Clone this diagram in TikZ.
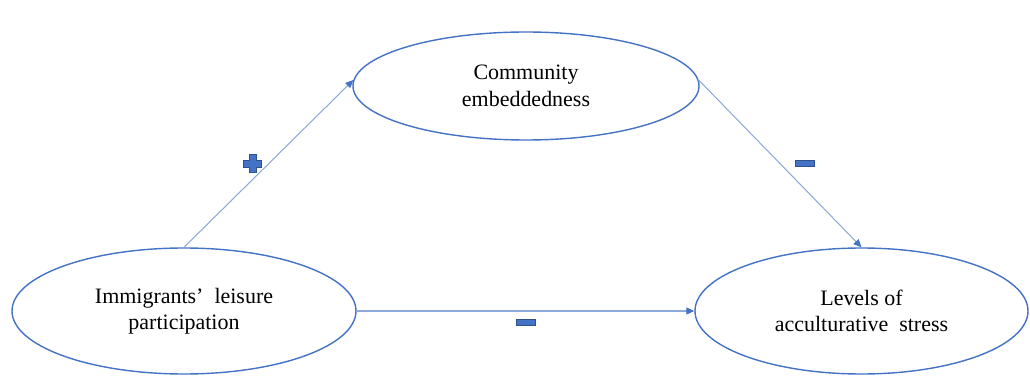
\documentclass[tikz,border=0pt]{standalone}
\usepackage{fontspec}
\setmainfont{Liberation Serif}
\usetikzlibrary{shapes.geometric, arrows.meta, positioning}
\definecolor{ovalblue}{HTML}{4472C4}
\definecolor{linkblue}{HTML}{8EA9DB}
\definecolor{signblue}{HTML}{4472C4}
\definecolor{signedge}{HTML}{2F528F}
\tikzstyle{factor} = [
  ellipse,
  minimum width=6.88cm,
  minimum height=2.52cm,
  text centered,
  align=center,
  draw=ovalblue,
  line width=0.8pt,
  font=\fontsize{12.5}{15}\selectfont
]
\tikzstyle{arrow} = [
  draw=linkblue,
  line width=0.6pt,
  -{Triangle[length=1.6mm, width=1.4mm, color=ovalblue]}
]
\tikzstyle{minussign} = [
  rectangle,
  minimum width=0.38cm,
  minimum height=0.12cm,
  inner sep=0pt,
  fill=signblue,
  draw=signedge,
  line width=0.3pt
]
\tikzstyle{plussign} = [
  rectangle,
  minimum size=0.42cm,
  inner sep=0pt,
  path picture={
    \filldraw[fill=signblue, draw=signedge, line width=0.3pt]
      ([shift={(-0.065,-0.18)}]path picture bounding box.center)
      -- ++(0.13,0) -- ++(0,0.115) -- ++(0.115,0) -- ++(0,0.13)
      -- ++(-0.115,0) -- ++(0,0.115) -- ++(-0.13,0) -- ++(0,-0.115)
      -- ++(-0.115,0) -- ++(0,-0.13) -- ++(0.115,0) -- cycle;
  }
]

\begin{document}
\begin{tikzpicture}
    \useasboundingbox (0,0) rectangle (20.6,7.5);

    \node (leisure) [factor] at (3.68,1.28) {Immigrants’\ \ leisure\\participation};
    \node (community) [factor, minimum width=6.92cm, minimum height=2.16cm,
      above right=4.5cm and 6.84cm of leisure.center, anchor=center] {Community\\embeddedness};
    \node (stress) [factor, minimum width=6.66cm,
      right=13.55cm of leisure.center, anchor=center] {Levels of\\acculturative\ \ stress};

    \draw [arrow] (leisure.north) -- node[plussign, pos=0.5, left=0.1cm] (plus-a) {} (community.178);
    \draw [arrow] (community.2) -- node[minussign, pos=0.5, right=0.3cm] (minus-b) {} (stress.north);
    \draw [arrow] (leisure.east) -- node[minussign, pos=0.5, below=0.15cm] (minus-c) {} (stress.west);
\end{tikzpicture}
\end{document}
